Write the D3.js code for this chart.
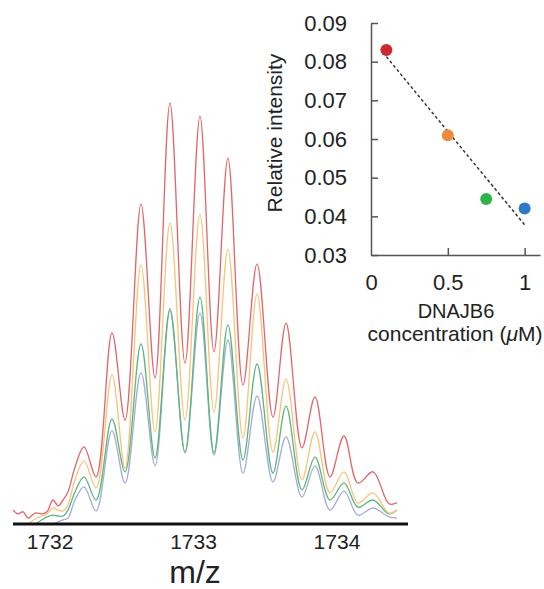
<!DOCTYPE html>
<html>
<head>
<meta charset="utf-8">
<script src="https://cdn.jsdelivr.net/npm/d3@7"></script>
<style>
  html, body { margin: 0; padding: 0; background: #fff; }
  svg { display: block; font-family: "Liberation Sans", Arial, Helvetica, sans-serif; }
</style>
</head>
<body>
<svg id="chart"></svg>
<script>
const WIDTH = 544;
const HEIGHT = 589;

// --- spectrum data (m/z grid + relative intensity per DNAJB6 concentration) ---
const mz = [1731.742, 1731.777, 1731.812, 1731.847, 1731.895, 1731.944, 1731.979, 1732.021,
  1732.056, 1732.091, 1732.125, 1732.174, 1732.237, 1732.321, 1732.432, 1732.523, 1732.634,
  1732.732, 1732.836, 1732.941, 1733.045, 1733.143, 1733.240, 1733.345, 1733.443, 1733.554,
  1733.645, 1733.756, 1733.847, 1733.951, 1734.049, 1734.146, 1734.251, 1734.362, 1734.418];

const redTrace = [3.3, 2.4, 2.9, 1.4, 2.6, 2.4, 2.9, 5.7, 4.3, 5.7, 7.6, 13.5, 18.3, 11.2, 45.4,
  24.7, 76.0, 34.7, 100, 38.2, 96.9, 40.9, 86.9, 33.0, 61.8, 25.4, 47.7, 18.1, 30.2, 11.2, 20.9,
  9.7, 12.4, 4.8, 5.0];
const orangeTrace = [0, 0, 0, 0, 1.2, 1.9, 2.4, 3.8, 3.3, 3.1, 4.5, 10.5, 15.0, 8.6, 35.4, 13.3,
  61.5, 21.9, 71.5, 24.7, 73.6, 26.6, 65.3, 20.4, 54.6, 17.1, 34.4, 10.5, 21.9, 7.4, 12.4, 5.0,
  7.4, 2.6, 3.3];
const greenTrace = [0, 0, 0, 0, 0, 1.0, 1.7, 2.1, 1.9, 1.9, 3.3, 7.6, 11.2, 5.7, 24.9, 12.4,
  42.8, 15.7, 51.1, 17.1, 53.9, 16.9, 47.3, 15.2, 38.0, 12.1, 28.0, 8.1, 15.9, 5.7, 9.7, 4.0,
  5.7, 2.4, 3.3];
const blueTrace = [0, 0, 0, 0, 0, 0, 0, 0, 0.5, 1.0, 1.4, 5.7, 8.8, 3.1, 22.1, 9.7, 35.9, 13.8,
  50.6, 16.9, 50.1, 16.4, 43.7, 12.1, 30.4, 10.0, 20.7, 6.4, 13.8, 3.3, 7.8, 2.1, 3.8, 1.7, 1.4];

const mzTicks = [1732, 1733, 1734];

// --- inset data ---
const concentration = [0.1, 0.5, 0.75, 1.0];
const relIntensity = [0.083, 0.061, 0.0445, 0.042];
const fitLine = [[0.1, 0.0813], [1.0, 0.0378]];
const insetYTicks = [0.03, 0.04, 0.05, 0.06, 0.07, 0.08, 0.09];
const insetXTicks = [0, 0.5, 1];

const traceColors = ["#a3acd8", "#5db57f", "#f8c47a", "#e0666b"];
const dotColors = ["#cc2a30", "#ee8a3c", "#2fb24c", "#2f79c6"];

const svg = d3.select("#chart")
    .attr("width", WIDTH)
    .attr("height", HEIGHT);

// --- main spectrum ---
const x = d3.scaleLinear().domain([1731.742, 1734.495]).range([13, 408]);
const y = d3.scaleLinear().domain([0, 100]).range([524, 103]);

const line = d3.line()
    .x((d, i) => x(mz[i]))
    .y(d => y(d))
    .curve(d3.curveCatmullRom.alpha(0.5));

const traces = [blueTrace, greenTrace, orangeTrace, redTrace];
svg.append("g")
    .selectAll("path")
    .data(traces)
    .join("path")
    .attr("d", d => line(d))
    .attr("fill", "none")
    .attr("stroke", (d, i) => traceColors[i])
    .attr("stroke-width", 1.3);

svg.append("line")
    .attr("x1", 13).attr("x2", 408)
    .attr("y1", 524).attr("y2", 524)
    .attr("stroke", "#111")
    .attr("stroke-width", 3);

svg.append("g")
    .selectAll("text")
    .data(mzTicks)
    .join("text")
    .attr("x", d => x(d))
    .attr("y", 549)
    .attr("text-anchor", "middle")
    .attr("font-size", 21)
    .attr("fill", "#222")
    .text(d => d);

svg.append("text")
    .attr("x", 195)
    .attr("y", 583)
    .attr("text-anchor", "middle")
    .attr("font-size", 32)
    .attr("fill", "#222")
    .text("m/z");

// --- inset ---
const ix = d3.scaleLinear().domain([0, 1.1]).range([371, 540]);
const iy = d3.scaleLinear().domain([0.03, 0.09]).range([255, 23]);

const yAxis = svg.append("g")
    .attr("transform", "translate(371,0)")
    .call(d3.axisLeft(iy).tickValues(insetYTicks).tickFormat(d3.format(".2f"))
        .tickSizeInner(-7).tickSizeOuter(0).tickPadding(24));

const xAxis = svg.append("g")
    .attr("transform", "translate(0,255)")
    .call(d3.axisBottom(ix).tickValues(insetXTicks).tickFormat(d => d)
        .tickSizeInner(-7).tickSizeOuter(0).tickPadding(19));

[yAxis, xAxis].forEach(ax => {
    ax.select(".domain").attr("stroke", "#555").attr("stroke-width", 1.5);
    ax.selectAll(".tick line").attr("stroke", "#555").attr("stroke-width", 1.5);
    ax.selectAll("text").attr("font-size", 22).attr("fill", "#222")
        .attr("font-family", "Liberation Sans, Arial, sans-serif");
});
xAxis.select(".tick line").attr("display", "none");

svg.append("path")
    .attr("d", d3.line().x(d => ix(d[0])).y(d => iy(d[1]))(fitLine))
    .attr("fill", "none")
    .attr("stroke", "#333")
    .attr("stroke-width", 1.5)
    .attr("stroke-dasharray", "3,2.5");

svg.append("g")
    .selectAll("circle")
    .data(concentration)
    .join("circle")
    .attr("cx", d => ix(d))
    .attr("cy", (d, i) => iy(relIntensity[i]))
    .attr("r", 6)
    .attr("fill", (d, i) => dotColors[i]);

svg.append("text")
    .attr("transform", "translate(282,133) rotate(-90)")
    .attr("text-anchor", "middle")
    .attr("font-size", 21)
    .attr("fill", "#222")
    .text("Relative intensity");

svg.append("text")
    .attr("x", 456)
    .attr("y", 318)
    .attr("text-anchor", "middle")
    .attr("font-size", 20)
    .attr("fill", "#222")
    .text("DNAJB6");

const concLabel = svg.append("text")
    .attr("x", 455)
    .attr("y", 341)
    .attr("text-anchor", "middle")
    .attr("font-size", 21)
    .attr("fill", "#222");
concLabel.append("tspan").text("concentration (");
concLabel.append("tspan").attr("font-style", "italic").text("\u03bc");
concLabel.append("tspan").text("M)");
</script>
</body>
</html>
